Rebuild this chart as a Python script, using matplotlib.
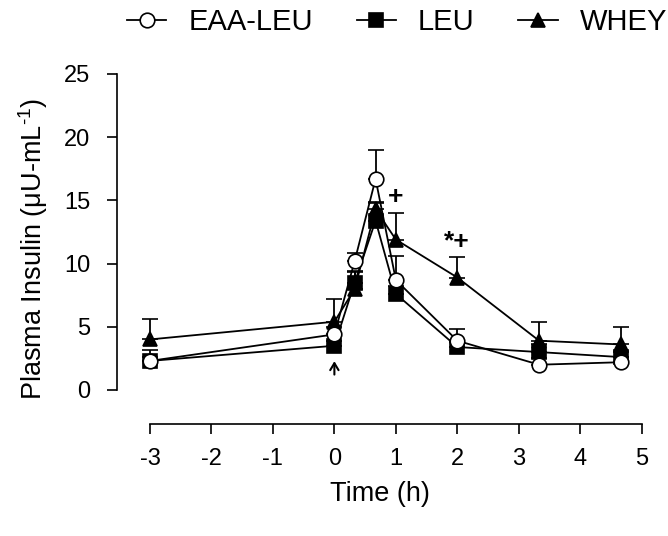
import numpy as np
import matplotlib
matplotlib.use('Agg')
import matplotlib.pyplot as plt
from matplotlib.lines import Line2D

plt.rcParams['font.family'] = ['Liberation Sans', 'DejaVu Sans']
plt.rcParams['mathtext.fontset'] = 'custom'
plt.rcParams['mathtext.rm'] = 'Liberation Sans'
plt.rcParams['mathtext.default'] = 'regular'
plt.rcParams['axes.unicode_minus'] = False

# Time points (h)
time_h = [-3, 0, 0.33, 0.67, 1, 2, 3.33, 4.67]

# Means (uU/mL)
eaa_leu = [2.3, 4.4, 10.2, 16.7, 8.7, 3.9, 2.0, 2.2]
leu = [2.3, 3.5, 8.5, 13.4, 7.6, 3.4, 3.0, 2.6]
whey = [4.0, 5.4, 8.0, 14.3, 11.9, 8.9, 3.9, 3.6]

# Upper error (SE)
eaa_leu_err = [0.9, 0.6, 0.6, 2.3, 1.9, 0.9, 0.5, 0.4]
leu_err = [0.3, 0.4, 0.8, 1.4, 0.6, 0.4, 0.6, 0.4]
whey_err = [1.6, 1.8, 1.4, 0.6, 2.1, 1.6, 1.5, 1.4]

fig = plt.figure(figsize=(6.68, 5.36), dpi=100)
ax = fig.add_axes([117 / 668, 1 - 424 / 536, (643 - 117) / 668, (424 - 74) / 536])

series = [
    (whey, whey_err, '^', 'black', 'WHEY'),
    (leu, leu_err, 's', 'black', 'LEU'),
    (eaa_leu, eaa_leu_err, 'o', 'white', 'EAA-LEU'),
]
handles = {}
for i, (vals, err, mk, fc, name) in enumerate(series):
    zero = np.zeros(len(err))
    ms = 10.5 if mk != 's' else 9.5
    ax.errorbar(time_h, vals, yerr=[zero, err], fmt='-' + mk, color='black',
                mfc=fc, mec='black', ms=ms, mew=1.2,
                lw=1.3, elinewidth=1.3, capsize=5.5, capthick=1.3,
                zorder=3 + i)
    handles[name] = Line2D([], [], color='black', lw=1.3, marker=mk, mfc=fc,
                           mec='black', ms=ms, mew=1.2)

ax.set_xlim(-3.536, 5.02)
ax.set_ylim(-2.69, 25)
ax.spines['top'].set_visible(False)
ax.spines['right'].set_visible(False)
ax.spines['left'].set_bounds(0, 25)
ax.spines['bottom'].set_bounds(-3, 5)
ax.spines['left'].set_linewidth(1.2)
ax.spines['bottom'].set_linewidth(1.2)

ax.set_xticks(range(-3, 6))
ax.set_yticks(range(0, 26, 5))
ax.tick_params(axis='both', direction='out', length=7, width=1.2, labelsize=17)
ax.tick_params(axis='x', pad=10)
ax.tick_params(axis='y', pad=12)

ax.set_xlabel('Time (h)', fontsize=19.5, labelpad=8)
ax.set_ylabel('Plasma Insulin (\u03bcU-mL$^{\\text{-}1}$)', fontsize=19.5, labelpad=10)

# significance marks and ingestion arrow
ax.text(0.99, 15.3, '+', ha='center', va='center', fontsize=19, fontweight='bold')
ax.text(2.0, 11.7, '*+', ha='center', va='center', fontsize=19, fontweight='bold')
ax.annotate('', xy=(0, 2.5), xytext=(0, 1.0),
            arrowprops=dict(arrowstyle='->,head_length=0.5,head_width=0.3',
                            color='black', lw=1.5))

fig.legend([handles['EAA-LEU'], handles['LEU'], handles['WHEY']],
           ['EAA-LEU', 'LEU', 'WHEY'], loc='center',
           bbox_to_anchor=(397 / 668, 1 - 22 / 536), ncol=3, frameon=False,
           fontsize=21, handlelength=1.35, handletextpad=0.75,
           columnspacing=1.5, borderpad=0)

fig.savefig('out.png', dpi=100)
